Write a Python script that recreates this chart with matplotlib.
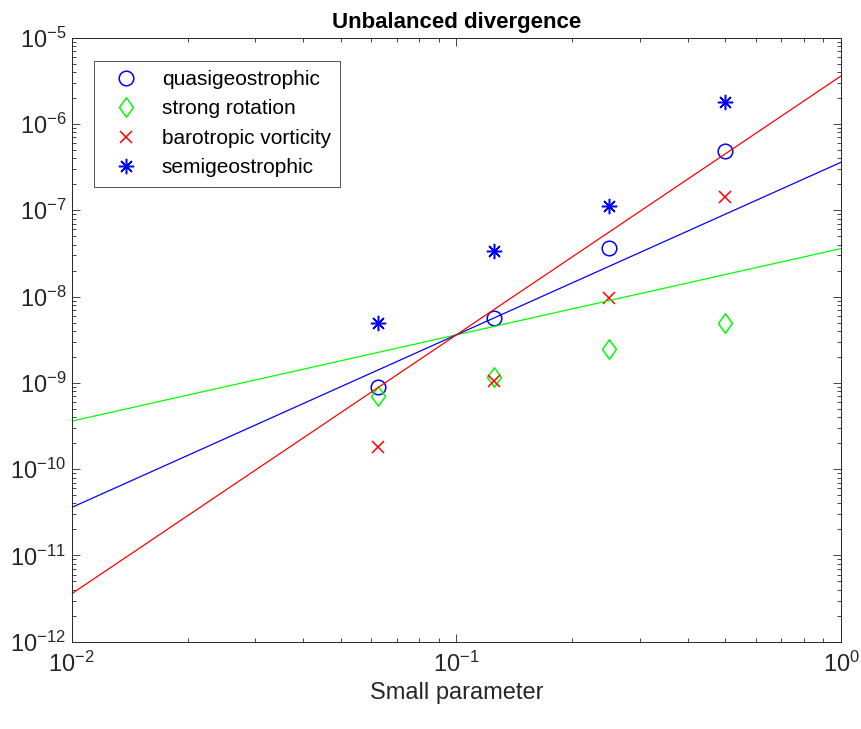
import numpy as np
import matplotlib
matplotlib.use("Agg")
import matplotlib.pyplot as plt
from matplotlib.path import Path
from matplotlib.ticker import NullFormatter

plt.rcParams["font.family"] = "Liberation Sans"
plt.rcParams["mathtext.fontset"] = "custom"
plt.rcParams["mathtext.rm"] = "Liberation Sans"
plt.rcParams["mathtext.it"] = "Liberation Sans"

# small parameter values
eps = [1 / 16, 1 / 8, 1 / 4, 1 / 2]

# measured unbalanced divergence
quasigeo = [9.0e-10, 5.6e-9, 3.7e-8, 4.9e-7]
strong_rot = [7.0e-10, 1.18e-9, 2.47e-9, 5.0e-9]
barotropic = [1.82e-10, 1.06e-9, 9.5e-9, 1.42e-7]
semigeo = [5.0e-9, 3.4e-8, 1.13e-7, 1.78e-6]

# reference lines: coefficient * eps**power
line_x = [1e-2, 1e0]
line_coef = [3.6e-8, 3.6e-7, 3.6e-6]
line_pow = [1, 2, 3]
line_col = ["#00ff00", "#0000ff", "#ff0000"]

GRAY = "#262626"

# matlab-like diamond (a bit wider than mpl's thin diamond)
diamond = Path([(0, 1), (0.72, 0), (0, -1), (-0.72, 0), (0, 1)],
               [Path.MOVETO, Path.LINETO, Path.LINETO, Path.LINETO,
                Path.CLOSEPOLY])

fig = plt.figure(figsize=(8.61, 7.29), dpi=100)
ax = fig.add_axes([0.0833, 0.1197, 0.8935, 0.8286])

ax.plot(eps, quasigeo, "o", mfc="none", mec="#0000ff", ms=10.5, mew=1.1,
        label="quasigeostrophic")
ax.plot(eps, strong_rot, marker=diamond, ls="none", mfc="none",
        mec="#00ff00", ms=14, mew=1.1, label="strong rotation")
ax.plot(eps, barotropic, "x", color="#ff0000", ms=8, mew=1.1,
        label="barotropic vorticity")
ax.plot(eps, semigeo, marker=(8, 2, 0), ls="none", color="#0000ff",
        ms=11, mew=1.1, label="semigeostrophic")

lx = np.array(line_x)
for c, p, col in zip(line_coef, line_pow, line_col):
    ax.plot(lx, c * lx ** p, color=col, lw=0.9)

ax.set_xscale("log")
ax.set_yscale("log")
ax.set_xlim(1e-2, 1e0)
ax.set_ylim(1e-12, 1e-5)
ax.xaxis.set_minor_formatter(NullFormatter())
ax.yaxis.set_minor_formatter(NullFormatter())

ax.tick_params(which="both", direction="in", top=True, right=True,
               colors=GRAY, labelsize=17)
ax.tick_params(which="major", length=6, width=0.6)
ax.tick_params(which="minor", length=3, width=0.6)
ax.tick_params(axis="x", pad=7)
ax.tick_params(axis="y", pad=4)
for s in ax.spines.values():
    s.set_color(GRAY)
    s.set_linewidth(0.7)

ax.set_xlabel("Small parameter", fontsize=17, color=GRAY, labelpad=4)
ax.set_title("Unbalanced divergence", fontsize=16, fontweight="bold", pad=7)

leg = ax.legend(loc="upper left", bbox_to_anchor=(0.029, 0.962),
                fontsize=15, frameon=True, fancybox=False, edgecolor=GRAY,
                borderpad=0.45, labelspacing=0.5, handletextpad=0.6,
                handlelength=2.2, borderaxespad=0)
leg.get_frame().set_linewidth(0.7)

fig.savefig("out.png", dpi=100)
